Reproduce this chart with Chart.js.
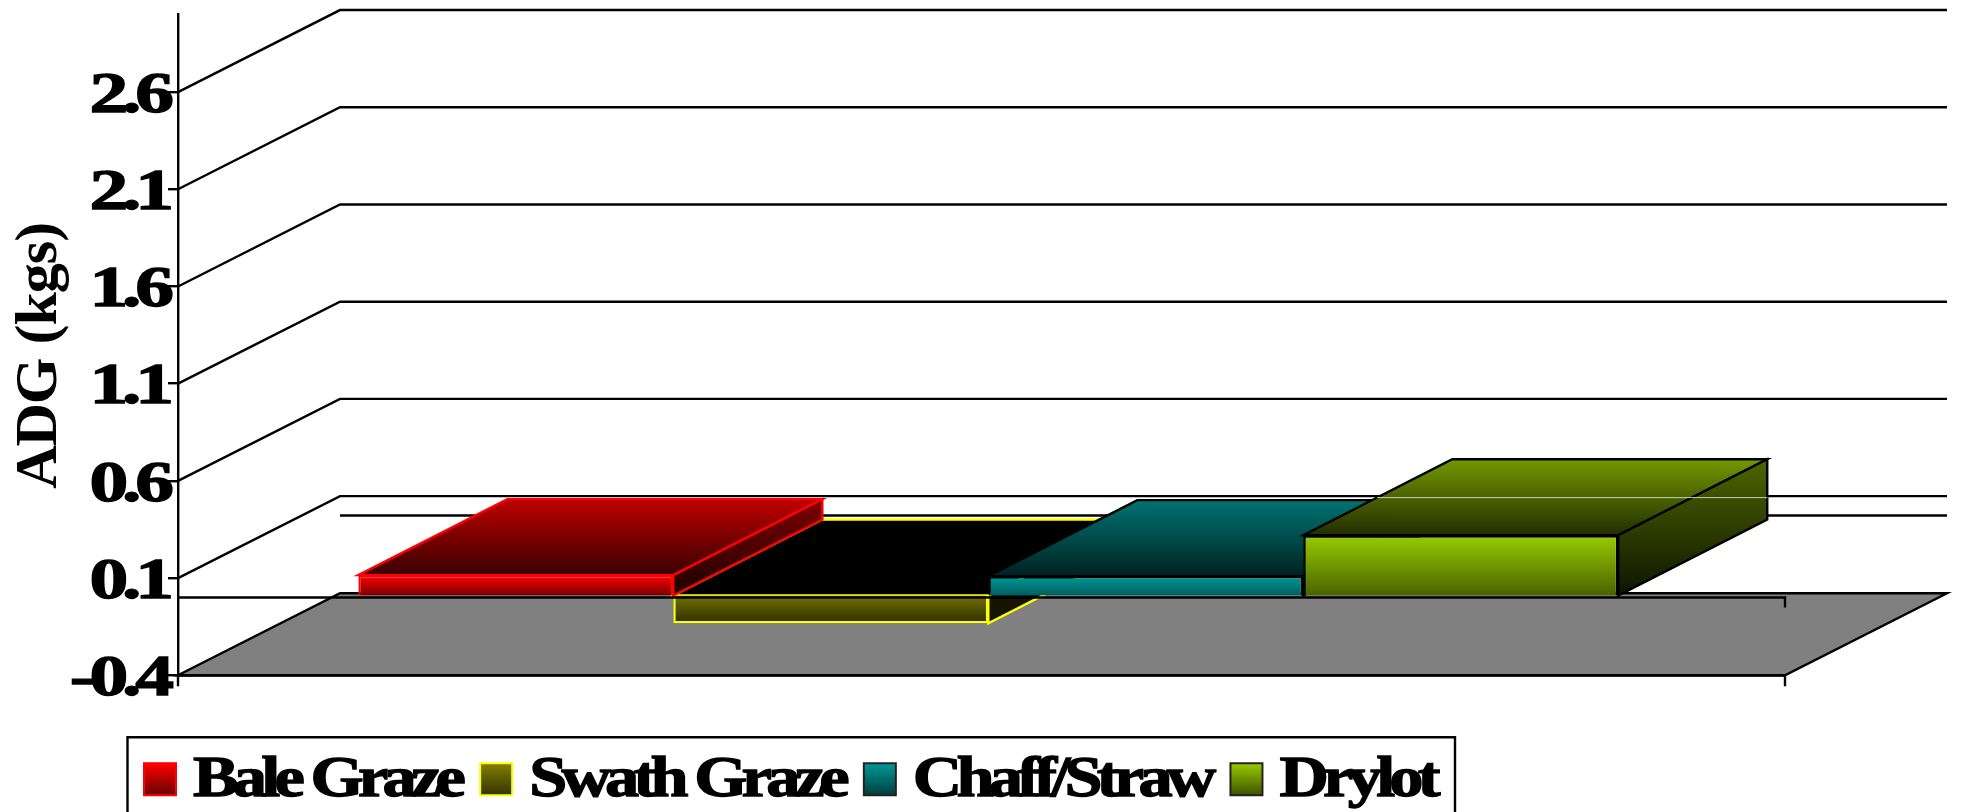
<!DOCTYPE html>
<html>
<head>
<meta charset="utf-8">
<style>html,body{margin:0;padding:0;background:#fff;overflow:hidden}canvas{display:block}</style>
<script src="https://cdn.jsdelivr.net/npm/chart.js@4"></script>
</head>
<body>
<canvas id="c" width="1961" height="812"></canvas>
<script>
const categories = [''];
const seriesNames = ['Bale Graze', 'Swath Graze', 'Chaff/Straw', 'Drylot'];
const baleGraze = [0.105];
const swathGraze = [-0.143];
const chaffStraw = [0.1];
const drylot = [0.31];
const yTicks = [-0.4, 0.1, 0.6, 1.1, 1.6, 2.1, 2.6];
const axisTitle = 'ADG (kgs)';
const seriesRgb = [[255,0,0],[128,128,0],[0,153,153],[153,204,0]];
const outlines = ['#ff0000','#ffff00','#000000','#000000'];

const SERIF = '"Liberation Serif","Times New Roman",serif';
const WALL = {dx:162, dy:82};
const BAR = {dx:149, dy:76, shiftX:6.8, shiftY:-2};
const TICK_STRETCH = 1.36, LEGEND_STRETCH = 1.2;
const LW = 2.4;
const shade = (rgb,f)=>`rgb(${rgb.map(v=>Math.round(v*f)).join(',')})`;
function grad(ctx,y0,y1,c0,c1){const g=ctx.createLinearGradient(0,y0,0,y1);g.addColorStop(0,c0);g.addColorStop(1,c1);return g;}
function poly(ctx,pts,fill,stroke){
  ctx.beginPath();pts.forEach((p,i)=>i?ctx.lineTo(p[0],p[1]):ctx.moveTo(p[0],p[1]));ctx.closePath();
  ctx.fillStyle=fill;ctx.fill();
  if(stroke){ctx.strokeStyle=stroke;ctx.lineWidth=LW;ctx.lineJoin='miter';ctx.stroke();}
}
function line(ctx,pts,w){
  ctx.beginPath();pts.forEach((p,i)=>i?ctx.lineTo(p[0],p[1]):ctx.moveTo(p[0],p[1]));
  ctx.strokeStyle='#000';ctx.lineWidth=w||LW;ctx.stroke();
}

const threeD = {
  id:'threeD',
  beforeDraw(chart){
    const y=chart.scales.y, ctx=chart.ctx;
    if(!y._patched){
      y._patched=true;
      const dl=y.drawLabels, dt=y.drawTitle;
      y.drawLabels=function(a){
        const xr=chart.chartArea.left-10;
        ctx.save();ctx.translate(xr,5);ctx.scale(TICK_STRETCH,1);ctx.translate(-xr,0);
        ctx.letterSpacing='-4.5px';dl.call(this,a);ctx.restore();
      };
      y.drawTitle=function(a){
        ctx.save();ctx.translate(4.5,11);ctx.letterSpacing='-1px';dt.call(this,a);ctx.restore();
      };
    }
  },
  beforeDatasetsDraw(chart){
    const {ctx,chartArea:a,scales:{y}}=chart;
    ctx.save();
    const yb=y.getPixelForValue(yTicks[0]);
    poly(ctx,[[a.left,yb],[a.right,yb],[a.right+WALL.dx,yb-WALL.dy],[a.left+WALL.dx,yb-WALL.dy]],'#808080','#000');
    line(ctx,[[a.left,yb],[a.right,yb]],2.8);
    yTicks.slice(1).forEach(v=>{
      const p=y.getPixelForValue(v);
      line(ctx,[[a.left,p],[a.left+WALL.dx,p-WALL.dy],[a.right+WALL.dx,p-WALL.dy]]);
    });
    const z=y.getPixelForValue(0);
    line(ctx,[[a.left+WALL.dx,z-WALL.dy],[a.right+WALL.dx,z-WALL.dy]]);
    ctx.restore();
  },
  beforeDatasetDraw(){ return false; },
  afterDatasetsDraw(chart){
    const {ctx,chartArea:a,scales:{y}}=chart;
    ctx.save();
    ctx.translate(BAR.shiftX,BAR.shiftY);
    const paintOrder=chart.data.datasets.map((d,i)=>i).sort((p,q)=>(series[q][0]<0)-(series[p][0]<0)||p-q);
    paintOrder.forEach(i=>{
      const el=chart.getDatasetMeta(i).data[0];
      const half=el.width/2, l=el.x-half, r=el.x+half;
      const t=Math.min(el.y,el.base), b=Math.max(el.y,el.base);
      const rgb=seriesRgb[i], line0=outlines[i];
      const neg=el.y>el.base;
      const topFill=neg?'#000':grad(ctx,t-BAR.dy,t,shade(rgb,.75),shade(rgb,.22));
      poly(ctx,[[l,t],[r,t],[r+BAR.dx,t-BAR.dy],[l+BAR.dx,t-BAR.dy]],topFill,line0);
      poly(ctx,[[r,t],[r,b],[r+BAR.dx,b-BAR.dy],[r+BAR.dx,t-BAR.dy]],
        neg?shade(rgb,.16):grad(ctx,t-BAR.dy,b,shade(rgb,.5),shade(rgb,.1)),line0);
      el.draw(ctx);
    });
    const last=chart.getDatasetMeta(3).data[0];
    const yLine=y.getPixelForValue(0.1)-WALL.dy+3.5-BAR.shiftY-2;
    const frac=(last.y-yLine)/BAR.dy;
    ctx.beginPath();
    ctx.moveTo(last.x-last.width/2+BAR.dx*frac,yLine);
    ctx.lineTo(last.x+last.width/2+BAR.dx,yLine);
    ctx.strokeStyle='#c9cfb4';ctx.lineWidth=1;ctx.stroke();
    ctx.restore();

    ctx.save();
    const z=y.getPixelForValue(0), yb=y.getPixelForValue(yTicks[0]);
    line(ctx,[[a.left,z],[a.right,z],[a.right,z+10]]);
    line(ctx,[[a.right,yb],[a.right,yb+11]]);
    line(ctx,[[a.left,yb],[a.left,yb+11]]);
    ctx.restore();
    drawLegend(chart);
  }
};

function drawLegend(chart){
  const ctx=chart.ctx;
  const yb=chart.scales.y.bottom;
  const boxTop=yb+62, left=127.5;
  const sw=32, swTop=boxTop+26, base=boxTop+59;
  ctx.save();
  ctx.font='bold 57px '+SERIF;
  ctx.letterSpacing='-4.8px';
  ctx.textAlign='left';ctx.textBaseline='alphabetic';
  let x=left+16.5;
  seriesNames.forEach((name,i)=>{
    const rgb=seriesRgb[i];
    ctx.beginPath();ctx.rect(x,swTop,sw,sw);
    ctx.fillStyle=grad(ctx,swTop,swTop+sw,shade(rgb,1),shade(rgb,.4));ctx.fill();
    ctx.strokeStyle=i<2?outlines[i]:'#222';ctx.lineWidth=2;ctx.stroke();
    const tx=x+sw+17;
    ctx.save();ctx.translate(tx,base);ctx.scale(LEGEND_STRETCH,1);
    ctx.fillStyle='#000';ctx.strokeStyle='#000';ctx.lineWidth=1.3;
    ctx.fillText(name,0,0);ctx.strokeText(name,0,0);
    const w=ctx.measureText(name).width*LEGEND_STRETCH;
    ctx.restore();
    x=tx+w+20;
  });
  ctx.restore();
  ctx.save();
  ctx.strokeStyle='#000';ctx.lineWidth=LW;
  ctx.beginPath();ctx.moveTo(left,830);ctx.lineTo(left,boxTop);ctx.lineTo(1455,boxTop);ctx.lineTo(1455,830);ctx.stroke();
  ctx.restore();
}

const series=[baleGraze,swathGraze,chaffStraw,drylot];
new Chart(document.getElementById('c'),{
  type:'bar',
  data:{labels:categories,datasets:series.map((d,i)=>({
    label:seriesNames[i],data:d,
    borderColor:outlines[i],borderWidth:LW,
    categoryPercentage:0.784,barPercentage:1,
    backgroundColor(c){
      const ca=c.chart.chartArea;
      if(!ca)return shade(seriesRgb[i],1);
      const y=c.chart.scales.y;
      const a=y.getPixelForValue(Math.max(d[0],0)), b=y.getPixelForValue(Math.min(d[0],0));
      return grad(c.chart.ctx,a,b,shade(seriesRgb[i],i===1?.88:1),shade(seriesRgb[i],i===1?.36:(i===2?.62:.48)));
    }
  }))},
  options:{
    responsive:false,animation:false,devicePixelRatio:1,
    layout:{autoPadding:false,padding:{top:14.3,right:176,left:0,bottom:0}},
    plugins:{legend:{display:false},tooltip:{enabled:false},title:{display:false}},
    scales:{
      x:{
        grid:{display:false},border:{display:false},ticks:{display:false},
        afterFit(s){s.height=136.7;s.paddingLeft=s.paddingRight=0;}
      },
      y:{
        min:-0.4,max:3.0,
        afterBuildTicks(s){s.ticks=yTicks.map(v=>({value:v}));},
        afterFit(s){s.width=178;s.paddingTop=s.paddingBottom=0;},
        border:{color:'#000',width:LW},
        grid:{drawOnChartArea:false,drawTicks:true,tickLength:10,color:'#000',lineWidth:LW},
        ticks:{
          autoSkip:false,padding:0,color:'#000',
          font:{family:SERIF,size:57,weight:'bold'},
          textStrokeColor:'#000',textStrokeWidth:1.3,
          callback:v=>Number(v).toFixed(1)
        },
        title:{display:true,text:axisTitle,color:'#000',padding:{top:0,bottom:0},
          font:{family:SERIF,size:60,weight:'bold'}}
      }
    }
  },
  plugins:[threeD]
});
</script>
</body>
</html>
